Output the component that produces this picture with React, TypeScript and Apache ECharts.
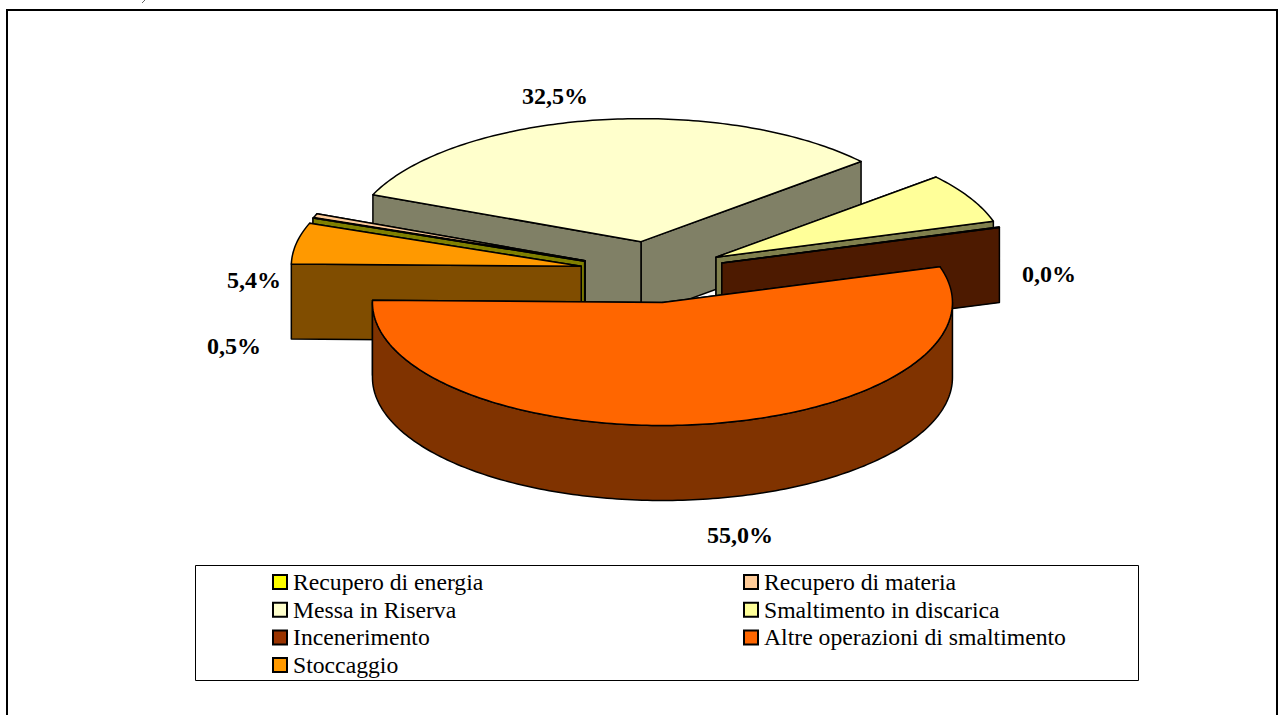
import React, { useEffect, useRef } from "react";
import * as echarts from "echarts";

const categories = [
  "Recupero di energia",
  "Recupero di materia",
  "Messa in Riserva",
  "Smaltimento in discarica",
  "Incenerimento",
  "Altre operazioni di smaltimento",
  "Stoccaggio",
];
const values = [0.03, 0.5, 32.5, 6.57, 0.04, 55.0, 5.4];
const topColors = ["#FFFF00", "#FFCC99", "#FFFFCC", "#FFFF99", "#993300", "#FF6600", "#FF9900"];
const wallColors = ["#808000", "#806650", "#808066", "#80804D", "#4D1A00", "#803300", "#804D00"];
const drawOrder = [2, 1, 0, 6, 3, 4, 5];
const legendLeft = [0, 2, 4, 6];
const legendRight = [1, 3, 5];

const CX = 652.5;
const CY = 272;
const RX = 290;
const RY = 123;
const DEPTH = 75;
const EXPLODE = 0.25;
const START = 159.5;

const labelPlaces: { idx: number; x: number; y: number }[] = [
  { idx: 2, x: 555, y: 96 },
  { idx: 4, x: 1049, y: 274 },
  { idx: 6, x: 254, y: 280 },
  { idx: 1, x: 234, y: 346 },
  { idx: 5, x: 740, y: 535 },
];

const total = values.reduce((a, b) => a + b, 0);
const rad = (d: number) => (d * Math.PI) / 180;

function sliceRange(i: number): [number, number] {
  let before = 0;
  for (let k = 0; k < i; k++) before += values[k];
  const a = START - (before / total) * 360;
  const b = a - (values[i] / total) * 360;
  return [a, b];
}

function arcPoints(c: [number, number], from: number, to: number, dy = 0) {
  const pts: number[][] = [];
  const n = Math.max(1, Math.ceil(Math.abs(from - to)));
  for (let k = 0; k <= n; k++) {
    const t = rad(from + ((to - from) * k) / n);
    pts.push([c[0] + RX * Math.cos(t), c[1] - RY * Math.sin(t) + dy]);
  }
  return pts;
}

function renderSlice(i: number) {
  const [a, b] = sliceRange(i);
  const mid = rad((a + b) / 2);
  const c: [number, number] = [
    CX + EXPLODE * RX * Math.cos(mid),
    CY - EXPLODE * RY * Math.sin(mid),
  ];
  const lineStyle = { stroke: "#000", lineWidth: 1.5, lineJoin: "round" };
  const children: any[] = [];
  const wall = (points: number[][]) =>
    children.push({
      type: "polygon",
      shape: { points },
      style: { fill: wallColors[i], ...lineStyle },
    });
  // cut faces, the one further back first
  const ends = [a, b]
    .map((t) => arcPoints(c, t, t)[0])
    .sort((p, q) => p[1] - q[1]);
  ends.forEach((e) => {
    wall([c, e, [e[0], e[1] + DEPTH], [c[0], c[1] + DEPTH]]);
  });
  // outer rim: only where it faces the viewer
  for (let k = -2; k <= 1; k++) {
    const lo = Math.max(b, -180 + 360 * k);
    const hi = Math.min(a, 360 * k);
    if (hi > lo) {
      wall([...arcPoints(c, lo, hi), ...arcPoints(c, hi, lo, DEPTH)]);
    }
  }
  children.push({
    type: "polygon",
    shape: { points: [c, ...arcPoints(c, a, b)] },
    style: { fill: topColors[i], ...lineStyle },
  });
  return { type: "group", children };
}

const legendBase = {
  orient: "vertical",
  icon: "rect",
  itemWidth: 14,
  itemHeight: 14,
  itemGap: 3.7,
  top: 570,
  padding: 0,
  selectedMode: false,
  textStyle: {
    fontFamily: "Liberation Serif",
    fontSize: 23.7,
    color: "#000",
    padding: [2, 0, 0, 1],
  },
};

export default function App() {
  const ref = useRef<HTMLDivElement>(null);
  useEffect(() => {
    document.body.style.margin = "0";
    const chart = echarts.init(ref.current!, undefined, { renderer: "svg" });
    chart.setOption({
      animation: false,
      backgroundColor: "#fff",
      legend: [
        { ...legendBase, left: 272, data: legendLeft.map((i) => categories[i]) },
        { ...legendBase, left: 743, data: legendRight.map((i) => categories[i]) },
      ],
      series: categories.map((name, i) => ({
        type: "custom",
        name,
        coordinateSystem: "none",
        z: 2 + drawOrder.indexOf(i),
        data: [[values[i]]],
        itemStyle: { color: topColors[i], borderColor: "#000", borderWidth: 1.5 },
        renderItem: () => renderSlice(i),
      })),
      graphic: [
        {
          type: "rect",
          z: -1,
          silent: true,
          shape: { x: 7, y: 10, width: 1270, height: 720 },
          style: { fill: "none", stroke: "#000", lineWidth: 2 },
        },
        {
          type: "line",
          z: -1,
          silent: true,
          shape: { x1: 142, y1: 3, x2: 145, y2: 0 },
          style: { stroke: "#666", lineWidth: 1 },
        },
        {
          type: "rect",
          z: -1,
          silent: true,
          shape: { x: 195.5, y: 565.5, width: 943, height: 115 },
          style: { fill: "#fff", stroke: "#000", lineWidth: 1 },
        },
        ...labelPlaces.map((l) => ({
          type: "text",
          z: 50,
          x: l.x,
          y: l.y,
          style: {
            text: values[l.idx].toFixed(1).replace(".", ",") + "%",
            fontFamily: "Liberation Serif",
            fontWeight: "bold",
            fontSize: 24,
            fill: "#000",
            textAlign: "center",
            textVerticalAlign: "middle",
          },
        })),
      ],
    });
    return () => chart.dispose();
  }, []);
  return <div ref={ref} style={{ width: 1282, height: 715 }} />;
}
